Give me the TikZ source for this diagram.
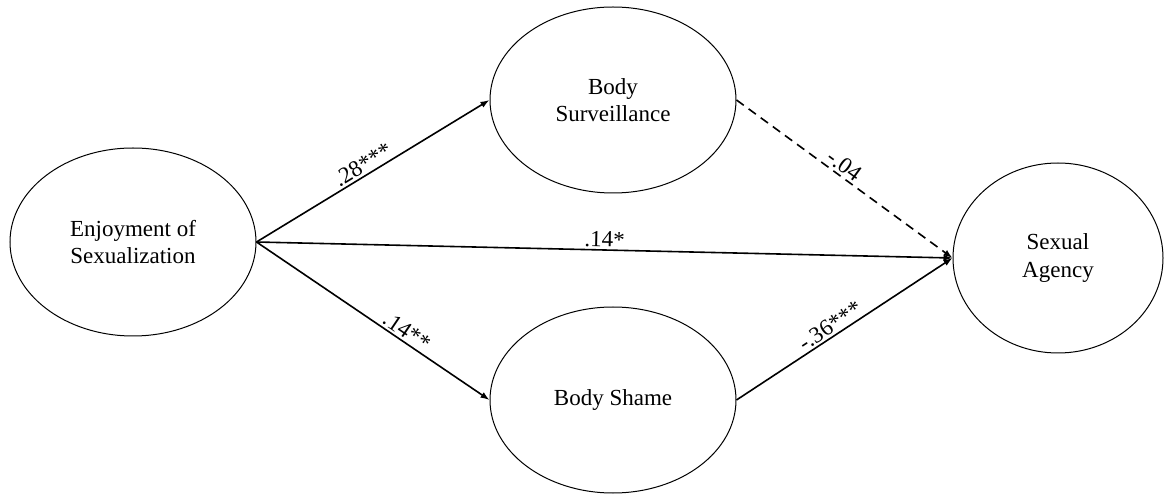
\documentclass[tikz,border=0pt]{standalone}
\usepackage{fontspec}
\setmainfont{Liberation Serif}
\usetikzlibrary{shapes.geometric,arrows.meta}

\begin{document}
\begin{tikzpicture}[x=1pt,y=-1pt,
  latent/.style={ellipse,draw,line width=1pt,inner sep=0pt,align=center,
    font=\fontsize{23}{27.5}\selectfont},
  path/.style={line width=1.6pt,-{Latex[length=9pt,width=6.5pt]}},
  nsdash/.style={path,dash pattern=on 9pt off 6pt},
  coef/.style={font=\fontsize{23}{27.5}\selectfont,sloped,above,inner sep=2pt}]
  \useasboundingbox (0,0) rectangle (1165,494);

  % latent variables
  \node[latent,minimum width=246pt,minimum height=188pt] (enj) at (133,242) {Enjoyment of\\Sexualization};
  \node[latent,minimum width=246pt,minimum height=186pt] (surv) at (613,100) {Body\\Surveillance};
  \node[latent,minimum width=246pt,minimum height=186pt] (shame) at (613,400) {Body Shame};
  \node[latent,minimum width=210pt,minimum height=190pt] (agency) at (1058,258) {Sexual\\Agency};

  % structural paths
  \draw[path] (enj.east) -- node[coef,pos=0.48] {.28***} (surv.west);
  \draw[path] (enj.east) -- node[coef,pos=0.5] {.14*} (agency.west);
  \draw[path] (enj.east) -- node[coef,pos=0.62] {.14**} (shame.west);
  \draw[nsdash] (surv.east) -- node[coef,pos=0.47] {-.04} (agency.west);
  \draw[path] (shame.east) -- node[coef,pos=0.46] {-.36***} (agency.west);
\end{tikzpicture}
\end{document}
